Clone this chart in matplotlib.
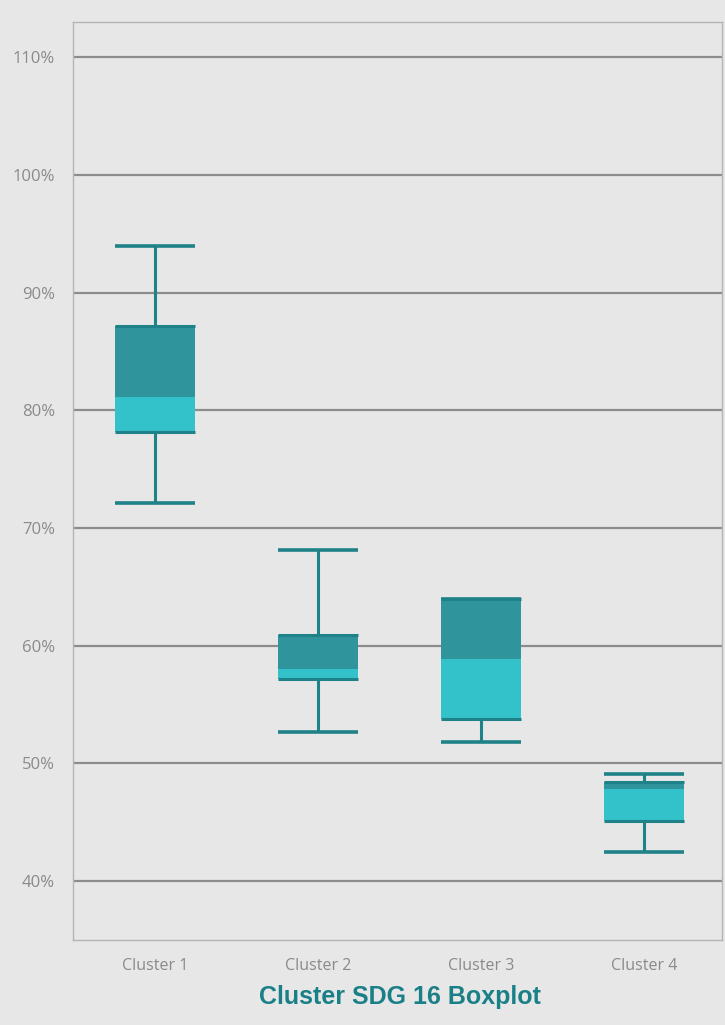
'''
Cluster SDG 16 boxplot
'''
import matplotlib
matplotlib.use('Agg')
import matplotlib.pyplot as plt
import numpy as np

clusters = ['Cluster 1', 'Cluster 2', 'Cluster 3', 'Cluster 4']
whisker_low = [72.1, 52.7, 51.8, 42.5]
q1 = [78.2, 57.2, 53.8, 45.1]
median = [81.1, 58.0, 58.9, 47.8]
q3 = [87.2, 60.9, 64.0, 48.4]
whisker_high = [94.0, 68.1, 64.0, 49.1]
yticks = [40, 50, 60, 70, 80, 90, 100, 110]

bg = '#e7e7e7'
dark = '#2f949b'
light = '#33c1ca'
line_col = '#1f8289'

fig = plt.figure(figsize=(7.25, 10.25), dpi=100, facecolor=bg)
ax = fig.add_axes([0.1007, 0.0829, 0.8952, 0.8956])
ax.set_facecolor(bg)

x = np.arange(len(clusters))
w = 0.49

# whiskers first so the boxes sit on top
ax.vlines(x, whisker_low, q1, color=line_col, lw=2.2, zorder=2)
ax.vlines(x, q3, whisker_high, color=line_col, lw=2.2, zorder=2)
ax.hlines(whisker_low, x - w / 2, x + w / 2, color=line_col, lw=2.6, zorder=2)
ax.hlines(whisker_high, x - w / 2, x + w / 2, color=line_col, lw=2.6, zorder=2)

# two-tone boxes
ax.bar(x, np.array(median) - np.array(q1), w, bottom=q1, color=light, zorder=3)
ax.bar(x, np.array(q3) - np.array(median), w, bottom=median, color=dark, zorder=3)
ax.hlines(q1, x - w / 2, x + w / 2, color=line_col, lw=2.2, zorder=4)
ax.hlines(q3, x - w / 2, x + w / 2, color=line_col, lw=2.2, zorder=4)

ax.set_xlim(-0.503, 3.48)
ax.set_ylim(35, 113)
ax.set_yticks(yticks)
ax.set_yticklabels([f'{t}%' for t in yticks])
ax.set_xticks(x)
ax.set_xticklabels(clusters)
ax.yaxis.grid(True, color='#8c8c8c', lw=1.6, zorder=1)
ax.set_axisbelow(True)
ax.tick_params(length=0, colors='#8a8a8a')
ax.tick_params(axis='y', pad=13, labelsize=12)
ax.tick_params(axis='x', pad=13, labelsize=11.5)
for lab in ax.get_xticklabels() + ax.get_yticklabels():
    lab.set_family(['Open Sans', 'DejaVu Sans'])
for s in ax.spines.values():
    s.set_color('#b4b4b4')
    s.set_linewidth(1.0)

fig.text(0.551, 0.027, 'Cluster SDG 16 Boxplot', ha='center', va='center',
         fontsize=18, fontweight='bold', color='#1a8088',
         family=['Liberation Sans', 'DejaVu Sans'])

plt.savefig('out.png', dpi=100, facecolor=bg)
